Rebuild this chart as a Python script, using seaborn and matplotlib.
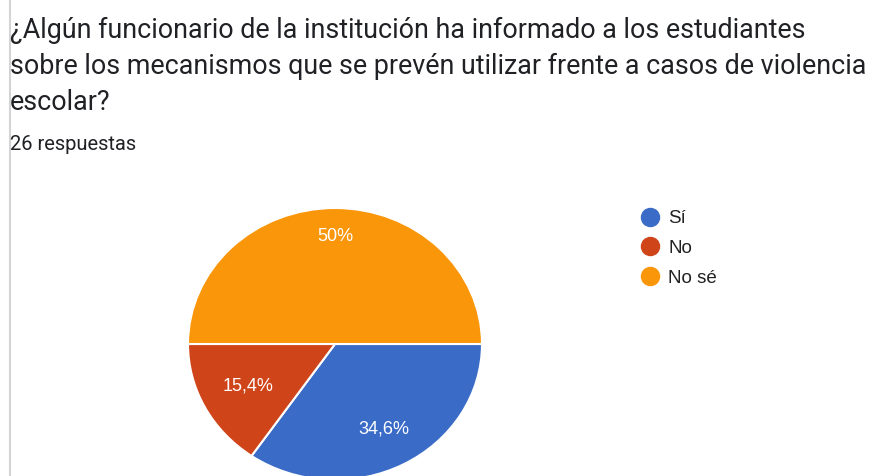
import matplotlib
matplotlib.use("Agg")
import matplotlib.pyplot as plt
from matplotlib.lines import Line2D
import numpy as np
import seaborn as sns

# ---- data ----
title_lines = [
    "¿Algún funcionario de la institución ha informado a los estudiantes",
    "sobre los mecanismos que se prevén utilizar frente a casos de violencia",
    "escolar?",
]
subtitle = "26 respuestas"
categories = ["Sí", "No", "No sé"]
counts = [9, 4, 13]
colors = ["#3A6BC6", "#D0441A", "#FA960A"]

sns.set_theme(style="white")
plt.rcParams["font.family"] = ["Roboto", "DejaVu Sans"]

W, H = 869, 476
fig = plt.figure(figsize=(W / 100, H / 100), dpi=100)
fig.patch.set_facecolor("white")

def px(x, y):
    return x / W, 1 - y / H

# title
baselines = [38, 74, 110]
for line, yb in zip(title_lines, baselines):
    fig.text(*px(10, yb), line, fontsize=19.4, color="#202124", va="baseline", ha="left",
             family=["Roboto", "DejaVu Sans"])
fig.text(*px(10, 150), subtitle, fontsize=14.5, color="#202124", va="baseline", ha="left",
         family=["Roboto", "DejaVu Sans"])

# left border line
fig.add_artist(Line2D([9.5 / W, 9.5 / W], [0, 1], color="#d4d4d4", lw=1.5))

# pie axes (slightly elliptical as in the reference)
cx, cy = 335, 344
rx, ry = 147, 136
lim = 1.05
ax = fig.add_axes([(cx - lim * rx) / W, (H - cy - lim * ry) / H, 2 * lim * rx / W, 2 * lim * ry / H])
wedges, _ = ax.pie(counts, colors=colors, startangle=0, counterclock=False,
                   wedgeprops=dict(edgecolor="white", linewidth=1.5))
ax.set_aspect("auto")
ax.set_xlim(-lim, lim)
ax.set_ylim(-lim, lim)
ax.axis("off")

total = sum(counts)
dists = [0.71, 0.67, 0.79]
for w, c, d in zip(wedges, counts, dists):
    pct = 100 * c / total
    s = f"{pct:.1f}".rstrip("0").rstrip(".").replace(".", ",") + "%"
    mid = np.deg2rad((w.theta1 + w.theta2) / 2)
    ax.text(d * np.cos(mid), d * np.sin(mid), s, ha="center", va="center",
            color="white", fontsize=13, family=["Liberation Sans", "DejaVu Sans"])

handles = [Line2D([0], [0], marker="o", linestyle="", markersize=13,
                  markerfacecolor=col, markeredgecolor=col) for col in colors]
fig.legend(handles, categories, loc="upper left", bbox_to_anchor=px(641, 210),
           frameon=False, handlelength=1.0, handletextpad=0.45, labelspacing=0.68,
           borderpad=0, borderaxespad=0,
           prop=dict(family=["Liberation Sans", "DejaVu Sans"], size=13.5))
for t in fig.legends[0].get_texts():
    t.set_color("#222222")

fig.savefig("out.png", dpi=100)
